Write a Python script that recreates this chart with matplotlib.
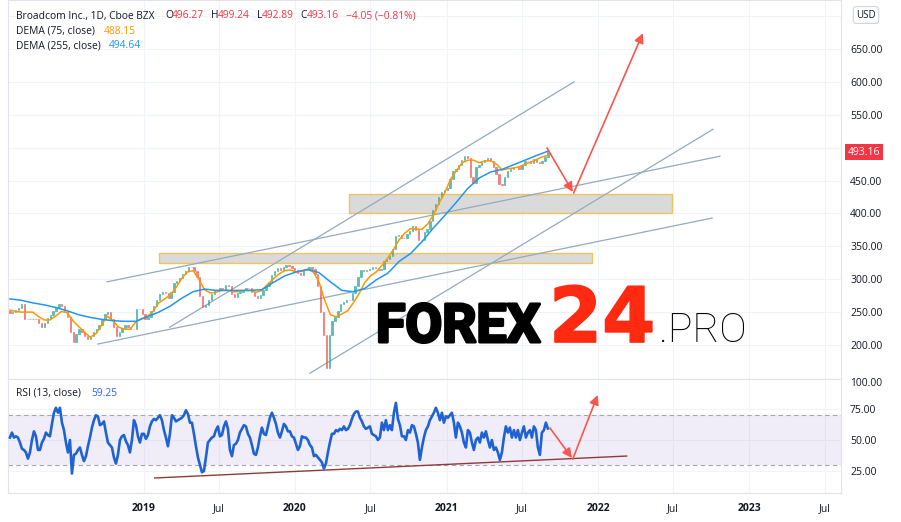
import numpy as np
import matplotlib
matplotlib.use("Agg")
import matplotlib.pyplot as plt
import matplotlib.dates as mdates
import matplotlib.transforms as mtransforms
import matplotlib.patheffects as pe
from matplotlib.patches import Rectangle

W, H = 901, 522

# weekly closes (Feb 2018 - Sep 2021)
closes = [248, 250, 253, 256, 262, 240, 239, 240, 240, 240,
          233, 228, 234, 241, 246, 252, 258, 263, 260, 251,
          243, 220, 205, 216, 224, 220, 213, 209, 214, 220,
          225, 231, 239, 247, 250, 240, 228, 214, 220, 226,
          230, 228, 225, 224, 254, 255, 247, 239, 243, 251,
          259, 268, 277, 280, 279, 272, 280, 295, 297, 302,
          308, 313, 318, 318, 312, 303, 275, 258, 261, 269,
          277, 283, 283, 286, 283, 291, 289, 277, 273, 279,
          280, 283, 286, 286, 280, 274, 271, 276, 283, 289,
          296, 307, 313, 317, 314, 318, 322, 320, 317, 314,
          309, 307, 314, 316, 318, 316, 308, 290, 250, 215,
          165, 215, 236, 243, 252, 262, 265, 268, 268, 279,
          290, 303, 314, 312, 314, 316, 318, 317, 314, 315,
          327, 331, 335, 346, 365, 367, 362, 362, 369, 373,
          381, 375, 360, 360, 372, 377, 388, 405, 415, 425,
          432, 436, 439, 452, 464, 468, 474, 482, 487, 484,
          455, 447, 470, 473, 478, 482, 485, 480, 470, 460,
          445, 443, 456, 465, 468, 470, 470, 467, 474, 480,
          479, 477, 483, 478, 476, 479, 486, 493.16]
first_open = 251

dema75 = [253, 251, 250, 250, 250, 243, 238, 238, 244, 251,
          249, 237, 228, 220, 212, 217, 230, 244, 237, 227,
          224, 224, 235, 240, 243, 251, 264, 270, 276, 287,
          301, 311, 313, 300, 284, 279, 280, 283, 283, 281,
          281, 283, 283, 280, 283, 292, 300, 308, 313, 314,
          311, 312, 315, 311, 296, 268, 246, 243, 247, 252,
          264, 278, 295, 305, 311, 321, 332, 345, 360, 370,
          377, 376, 376, 384, 398, 416, 432, 452, 465, 477,
          481, 481, 477, 480, 480, 475, 466, 468, 469, 471,
          475, 478, 482, 486, 488.15]

dema255 = [270, 268, 264, 261, 257, 252, 246, 242, 239, 237,
           236, 236, 243, 250, 259, 271, 281, 285, 283, 283,
           283, 283, 284, 295, 305, 311, 315, 310, 296, 283,
           281, 286, 299, 309, 327, 339, 357, 378, 397, 417,
           438, 454, 463, 467, 474, 481, 488, 494.64]

rsi = [52, 56, 52, 53, 52, 48, 43, 42, 40, 35,
       40, 50, 57, 53, 42, 42, 48, 51, 56, 54,
       53, 63, 72, 76, 72, 76, 64, 58, 48, 40,
       50, 23, 38, 39, 42, 44, 38, 33, 37, 45,
       52, 60, 66, 70, 69, 62, 63, 65, 56, 48,
       46, 44, 36, 31, 38, 50, 53, 54, 49, 46,
       40, 50, 66, 62, 53, 48, 55, 55, 51, 54,
       61, 65, 67, 66, 68, 70, 66, 58, 52, 45,
       55, 70, 68, 65, 66, 67, 68, 70, 74, 71,
       64, 64, 55, 45, 36, 30, 24, 25, 36, 48,
       50, 52, 53, 58, 61, 53, 54, 61, 65, 59,
       42, 37, 46, 47, 50, 56, 59, 62, 61, 55,
       52, 46, 39, 38, 44, 53, 60, 55, 54, 61,
       68, 72, 68, 63, 56, 52, 57, 63, 61, 57,
       57, 53, 52, 47, 42, 45, 53, 52, 52, 50,
       46, 44, 37, 38, 36, 34, 32, 27, 31, 40,
       48, 55, 55, 58, 57, 59, 58, 61, 58, 59,
       62, 67, 71, 73, 73, 68, 65, 61, 59, 60,
       61, 55, 54, 53, 50, 52, 64, 58, 66, 58,
       62, 58, 72, 80, 67, 62, 53, 53, 50, 58,
       56, 62, 61, 55, 48, 34, 44, 52, 58, 61,
       66, 69, 72, 76, 72, 66, 72, 64, 69, 68,
       70, 72, 64, 52, 64, 61, 56, 48, 44, 58,
       56, 48, 42, 50, 52, 48, 56, 52, 57, 50,
       44, 50, 42, 44, 40, 34, 40, 52, 61, 56,
       60, 52, 58, 52, 58, 50, 56, 61, 52, 56,
       58, 52, 61, 58, 44, 38, 56, 58, 64, 59.25]

first_day = "2018-02-13"
last_day = "2021-09-02"

# drawings on the chart: (date, value) pairs
trend_lines = [(("2019-03-05", 227), ("2021-11-04", 600)),
               (("2018-10-05", 296), ("2022-10-22", 487)),
               (("2018-09-13", 201.5), ("2022-10-03", 393)),
               (("2020-02-06", 157), ("2022-10-05", 528))]
zones = [("2020-05-10", "2022-06-28", 400, 430),
         ("2019-02-07", "2021-12-17", 325, 340)]
price_arrows = [(("2021-08-31", 499.5), ("2021-11-01", 432.6)),
                (("2021-11-03", 431), ("2022-04-19", 674))]
rsi_arrows = [(("2021-09-07", 59.7), ("2021-10-30", 35.5)),
              (("2021-11-01", 34.7), ("2021-12-31", 86.3))]
rsi_trend = (("2019-01-28", 19.4), ("2022-03-11", 37.1))

tick_dates = ["2019-01-01", "2019-07-01", "2020-01-01", "2020-07-01", "2021-01-01",
              "2021-07-01", "2022-01-01", "2022-07-01", "2023-01-01", "2023-07-01"]
tick_names = ["2019", "Jul", "2020", "Jul", "2021", "Jul", "2022", "Jul", "2023", "Jul"]
price_ticks = [200, 250, 300, 350, 400, 450, 500, 550, 600, 650, 700]
hidden_ticks = [500, 700]  # covered by the price tag and the USD box

UP, DOWN = "#26a69a", "#ef5350"
RED = "#f23645"
GRID = "#f0f3fa"
BORDER = "#e0e3eb"
TXT = "#131722"

plt.rcParams["font.family"] = ["Open Sans", "DejaVu Sans"]


def d(s):
    return mdates.datestr2num(s)


def px(x, y):
    return x / W, 1 - y / H


d0, d1 = d(first_day), d(last_day)
cdates = np.linspace(d0, d1, len(closes))
opens = [first_open] + closes[:-1]

fig = plt.figure(figsize=(W / 100, H / 100), dpi=100)
ax = fig.add_axes([8 / W, 1 - 379 / H, 833 / W, 379 / H])
ax2 = fig.add_axes([8 / W, 1 - 493 / H, 833 / W, 114 / H], sharex=ax)

ax.set_xlim(d("2019-01-01") - 326.7, d("2019-01-01") + 1681.7)
ax.set_ylim(148.3, 724.5)
ax2.set_ylim(7.3, 99.2)

for a in (ax, ax2):
    for s in a.spines.values():
        s.set_color(BORDER)
    a.set_xticks([d(t) for t in tick_dates])
    a.grid(True, color=GRID, lw=0.8)
    a.set_axisbelow(True)
    a.yaxis.tick_right()
    a.tick_params(length=0, labelsize=7.5, labelcolor=TXT, pad=6.5)

ax.tick_params(labelbottom=False)
ax.set_yticks(price_ticks)
ax.set_yticklabels(["" if v in hidden_ticks else f"{v:.2f}" for v in price_ticks])
ax2.set_yticks([25, 50, 75])
ax2.set_yticklabels(["25.00", "50.00", "75.00"])
ax2.set_xticklabels(tick_names)
for lab in ax2.get_xticklabels():
    lab.set_fontsize(7.5)
    if lab.get_text() != "Jul":
        lab.set_fontweight("bold")
ax2.tick_params(axis="x", pad=7)

# candles
heights = np.array(closes) - np.array(opens)
colors = [UP if h >= 0 else DOWN for h in heights]
ax.bar(cdates, heights, bottom=opens, width=3.2, color=colors, edgecolor=colors,
       linewidth=0.5, alpha=0.75, zorder=3)

# DEMA lines
ax.plot(np.linspace(d0, d1, len(dema75)), dema75, color="#ff9800", lw=1.1, zorder=4)
ax.plot(np.linspace(d0, d1, len(dema255)), dema255, color="#2196f3", lw=1.1, zorder=4)

# zones and trend lines
for a0, a1, lo, hi in zones:
    ax.add_patch(Rectangle((d(a0), lo), d(a1) - d(a0), hi - lo, facecolor="#d6d6d6",
                           edgecolor="#f0c24e", lw=1.0, alpha=0.9, zorder=2))
for (s0, v0), (s1, v1) in trend_lines:
    ax.plot([d(s0), d(s1)], [v0, v1], color="#93abbd", lw=0.9, zorder=2.5)

arrow_kw = dict(arrowstyle="-|>", color="#f7574c", lw=1.2, mutation_scale=14,
                shrinkA=0, shrinkB=0)
for (s0, v0), (s1, v1) in price_arrows:
    ax.annotate("", xy=(d(s1), v1), xytext=(d(s0), v0), arrowprops=arrow_kw, zorder=6)

# current price tag
tr = mtransforms.blended_transform_factory(ax.transAxes, ax.transData)
ax.text(1 + 7 / 833, closes[-1], f"{closes[-1]:.2f}", transform=tr, ha="left", va="center",
        color="white", fontsize=7.5, clip_on=False,
        bbox=dict(boxstyle="square,pad=0.25", fc=RED, ec="none"))

# RSI panel
ax2.axhspan(30, 70, color="#7e57c2", alpha=0.1, lw=0)
ax2.axhline(70, color="#a7a3b0", lw=0.8, ls=(0, (4, 3)))
ax2.axhline(30, color="#a7a3b0", lw=0.8, ls=(0, (4, 3)))
ax2.plot(np.linspace(d0, d1, len(rsi)), rsi, color="#1f63d3", lw=1.9, zorder=4)
(s0, v0), (s1, v1) = rsi_trend
ax2.plot([d(s0), d(s1)], [v0, v1], color="#8e3a3a", lw=1.0, zorder=3)
for (s0, v0), (s1, v1) in rsi_arrows:
    ax2.annotate("", xy=(d(s1), v1), xytext=(d(s0), v0), arrowprops=arrow_kw, zorder=6)


# header legends
def put(x, y, s, color=TXT, **kw):
    fig.text(*px(x, y), s, color=color, fontsize=7.4, va="center", **kw)


put(16, 16, "Broadcom Inc., 1D, Cboe BZX")
put(165, 16, "O")
put(172, 16, "496.27", RED)
put(211, 16, "H")
put(218, 16, "499.24", RED)
put(257, 16, "L")
put(262, 16, "492.89", RED)
put(300, 16, "C")
put(307, 16, "493.16", RED)
put(346, 16, "\u22124.05 (\u22120.81%)", RED)
put(16, 31, "DEMA (75, close)")
put(104, 31, "488.15", "#ff9800")
put(16, 46, "DEMA (255, close)")
put(109, 46, "494.64", "#2196f3")
put(16, 393, "RSI (13, close)")
put(91, 393, "59.25", "#2962ff")
put(850, 383, "100.00")

fig.text(*px(866, 15), "USD", ha="center", va="center", fontsize=7, color=TXT,
         bbox=dict(boxstyle="round,pad=0.3", fc="white", ec="#d1d4dc", lw=0.8))

# watermark
fig.text(*px(376, 342), "FOREX", fontsize=38.5, family=["Roboto", "DejaVu Sans"],
         fontweight="bold", color="black", va="baseline", zorder=10,
         path_effects=[pe.withStroke(linewidth=2.2, foreground="black")])
fig.text(*px(549, 342), "24", fontsize=55, family=["DejaVu Sans"],
         fontweight="bold", color="#ff2a10", va="baseline", zorder=10,
         path_effects=[pe.withStroke(linewidth=1.2, foreground="#ff2a10")])
fig.text(*px(659, 342), ".PRO", fontsize=29.5, family=["Roboto", "DejaVu Sans"],
         fontweight="light", color="black", va="baseline", zorder=10)

fig.savefig("out.png", dpi=100, facecolor="white")
